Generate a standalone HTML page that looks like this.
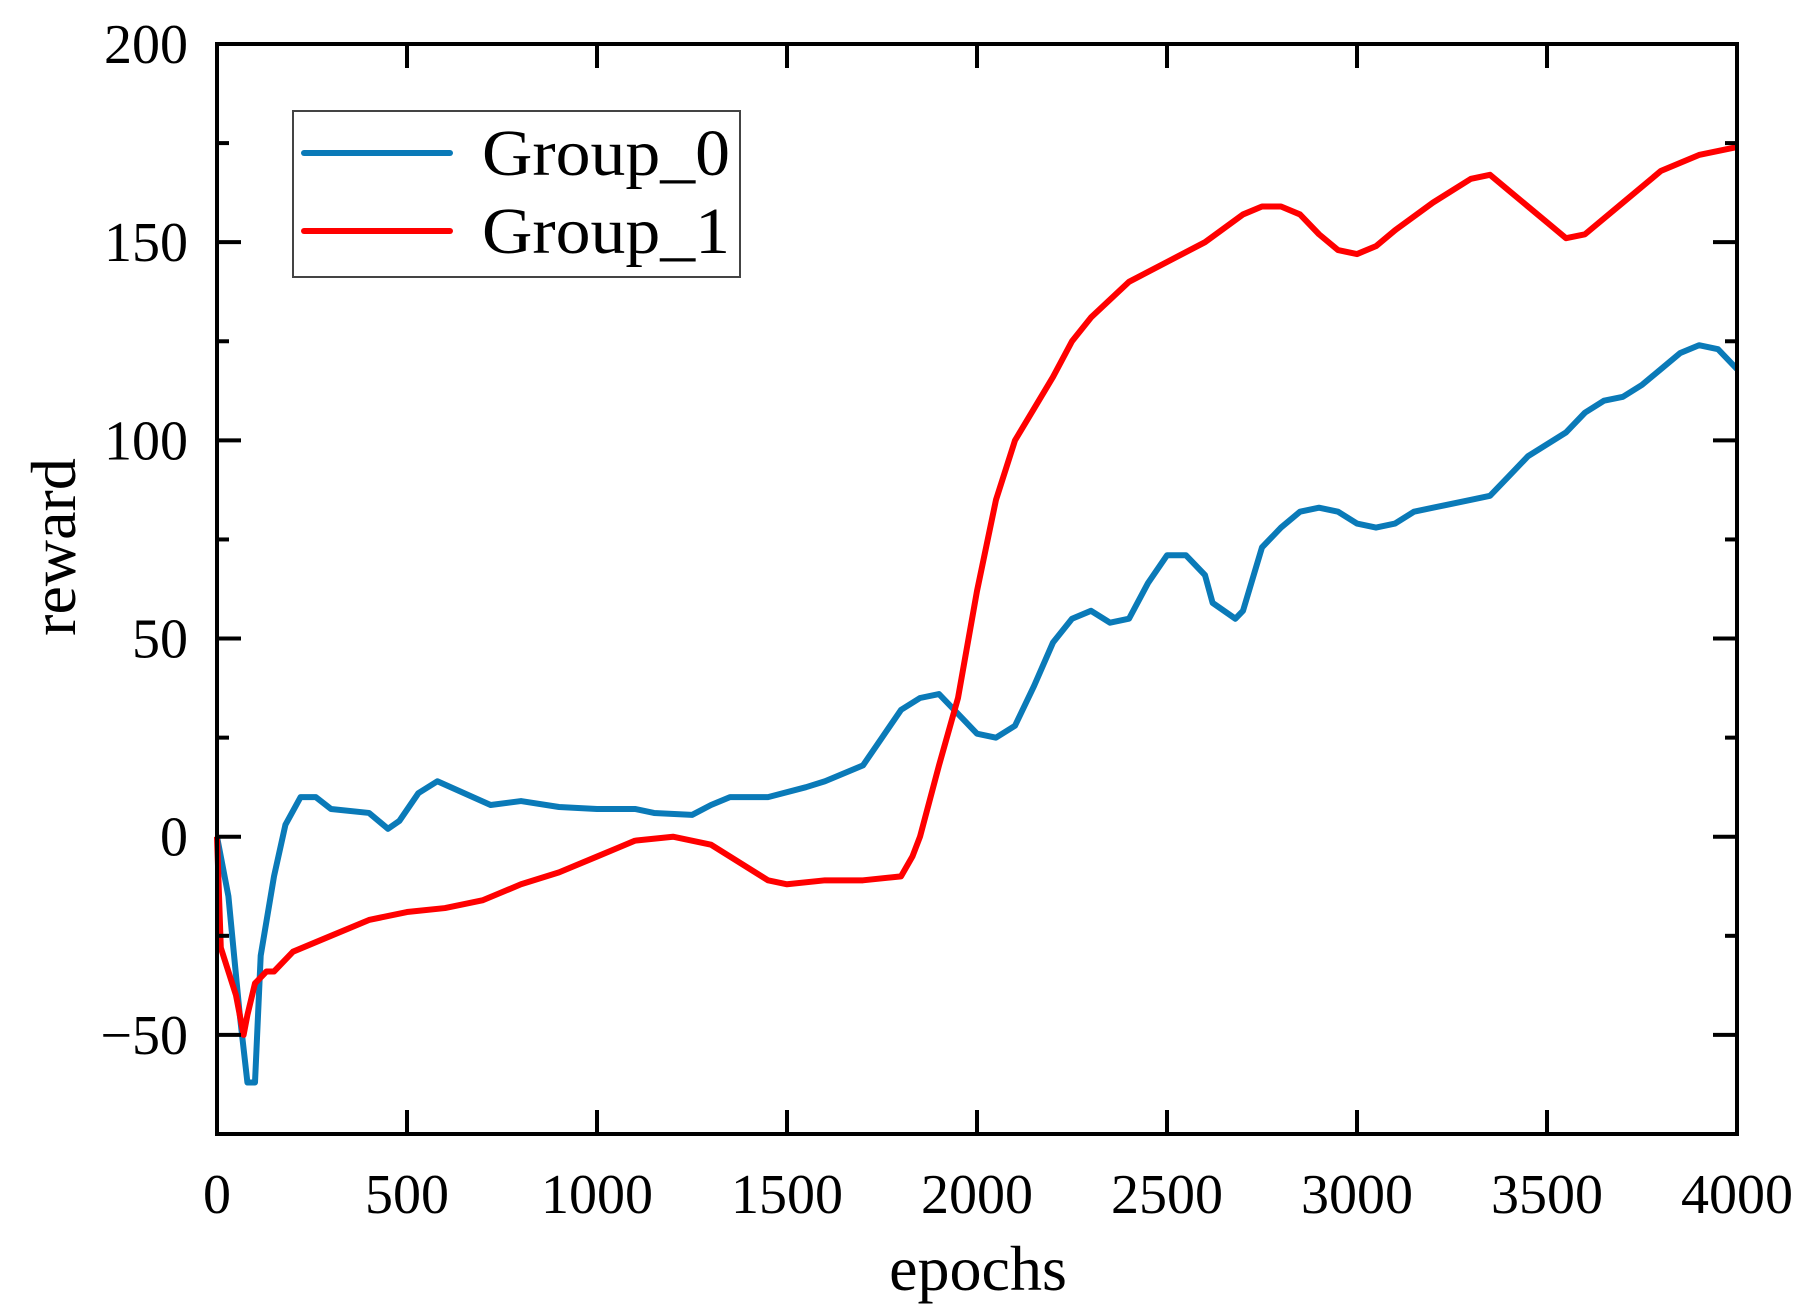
<!DOCTYPE html>
<html><head><meta charset="utf-8"><style>
html,body{margin:0;padding:0;background:#fff;}
svg{display:block;}
text{font-family:"Liberation Serif",serif;fill:#000;}
</style></head><body>
<svg id="chart" width="1815" height="1315">
</svg>
<script>
const xTicks=[0,500,1000,1500,2000,2500,3000,3500,4000];
const yTicks=[-50,0,50,100,150,200];
const yMinorTicks=[-25,25,75,125,175];
const g0x=[0,30,60,80,100,115,150,180,220,260,300,400,450,480,530,580,650,720,800,900,1000,1100,1150,1250,1300,1350,1450,1550,1600,1700,1750,1800,1850,1900,1950,2000,2050,2100,2150,2200,2250,2300,2350,2400,2450,2500,2550,2600,2620,2680,2700,2750,2800,2850,2900,2950,3000,3050,3100,3150,3200,3300,3350,3400,3450,3500,3550,3600,3650,3700,3750,3800,3850,3900,3950,4000];
const g0y=[0,-15,-45,-62,-62,-30,-10,3,10,10,7,6,2,4,11,14,11,8,9,7.5,7,7,6,5.5,8,10,10,12.5,14,18,25,32,35,36,31,26,25,28,38,49,55,57,54,55,64,71,71,66,59,55,57,73,78,82,83,82,79,78,79,82,83,85,86,91,96,99,102,107,110,111,114,118,122,124,123,118];
const g1x=[0,10,50,70,80,100,130,150,200,300,400,500,600,700,800,900,1000,1050,1100,1200,1300,1400,1450,1500,1600,1700,1800,1830,1850,1900,1950,2000,2050,2100,2150,2200,2250,2300,2400,2500,2600,2700,2750,2800,2850,2900,2950,3000,3050,3100,3200,3300,3350,3400,3500,3550,3600,3700,3800,3900,4000];
const g1y=[0,-28,-40,-50,-45,-37,-34,-34,-29,-25,-21,-19,-18,-16,-12,-9,-5,-3,-1,0,-2,-8,-11,-12,-11,-11,-10,-5,0,18,35,62,85,100,108,116,125,131,140,145,150,157,159,159,157,152,148,147,149,153,160,166,167,163,155,151,152,160,168,172,174];

const L=217,R=1737,T=44,B=1134;
const xMin=0,xMax=4000,yMin=-75,yMax=200;
const X=v=>L+(v-xMin)/(xMax-xMin)*(R-L);
const Y=v=>B-(v-yMin)/(yMax-yMin)*(B-T);
const svg=document.getElementById('chart');
const NS='http://www.w3.org/2000/svg';
function mk(tag,attrs,parent){const e=document.createElementNS(NS,tag);for(const k in attrs)e.setAttribute(k,attrs[k]);(parent||svg).appendChild(e);return e;}

function series(xs,ys,color,name){
  const p=mk('polyline',{points:xs.map((x,i)=>X(x)+','+Y(ys[i])).join(' '),fill:'none',stroke:color,'stroke-width':6,'stroke-linejoin':'round'});
  
  
}
series(g0x,g0y,'#0a7ab8','group-0-line');
series(g1x,g1y,'#ff0000','group-1-line');

const ticks=mk('g',{stroke:'#000','stroke-width':4});


xTicks.forEach(v=>{mk('line',{x1:X(v),x2:X(v),y1:B,y2:B-24},ticks);mk('line',{x1:X(v),x2:X(v),y1:T,y2:T+24},ticks);});
yTicks.forEach(v=>{mk('line',{x1:L,x2:L+24,y1:Y(v),y2:Y(v)},ticks);mk('line',{x1:R,x2:R-24,y1:Y(v),y2:Y(v)},ticks);});
yMinorTicks.forEach(v=>{mk('line',{x1:L,x2:L+12,y1:Y(v),y2:Y(v)},ticks);mk('line',{x1:R,x2:R-12,y1:Y(v),y2:Y(v)},ticks);});

const frame=mk('rect',{x:L,y:T,width:R-L,height:B-T,fill:'none',stroke:'#000','stroke-width':4});



xTicks.forEach(v=>{const t=mk('text',{x:X(v),y:1213,'text-anchor':'middle','font-size':56});t.textContent=v;

});
yTicks.forEach(v=>{const t=mk('text',{x:188,y:Y(v)+19,'text-anchor':'end','font-size':56});t.textContent=v<0?'\u2212'+(-v):v;

});

const xt=mk('text',{x:978,y:1290,'text-anchor':'middle','font-size':64});xt.textContent='epochs';


const yt=mk('text',{x:0,y:0,'text-anchor':'middle','font-size':64,transform:'translate(75,547) rotate(-90)'});yt.textContent='reward';



const lg=mk('g',{});


mk('rect',{x:293,y:111,width:447,height:166,fill:'#fff',stroke:'#444','stroke-width':2},lg);
[['Group_0','#0a7ab8',153],['Group_1','#ff0000',231]].forEach(([n,c,y])=>{
  const e=mk('g',{},lg);
  
  
  mk('line',{x1:304,x2:450,y1:y,y2:y,stroke:c,'stroke-width':6,'stroke-linecap':'round'},e);
  const t=mk('text',{x:482,y:y+22,'font-size':66,textLength:248,lengthAdjust:'spacingAndGlyphs'},e);t.textContent=n;
});
</script>
</body></html>
